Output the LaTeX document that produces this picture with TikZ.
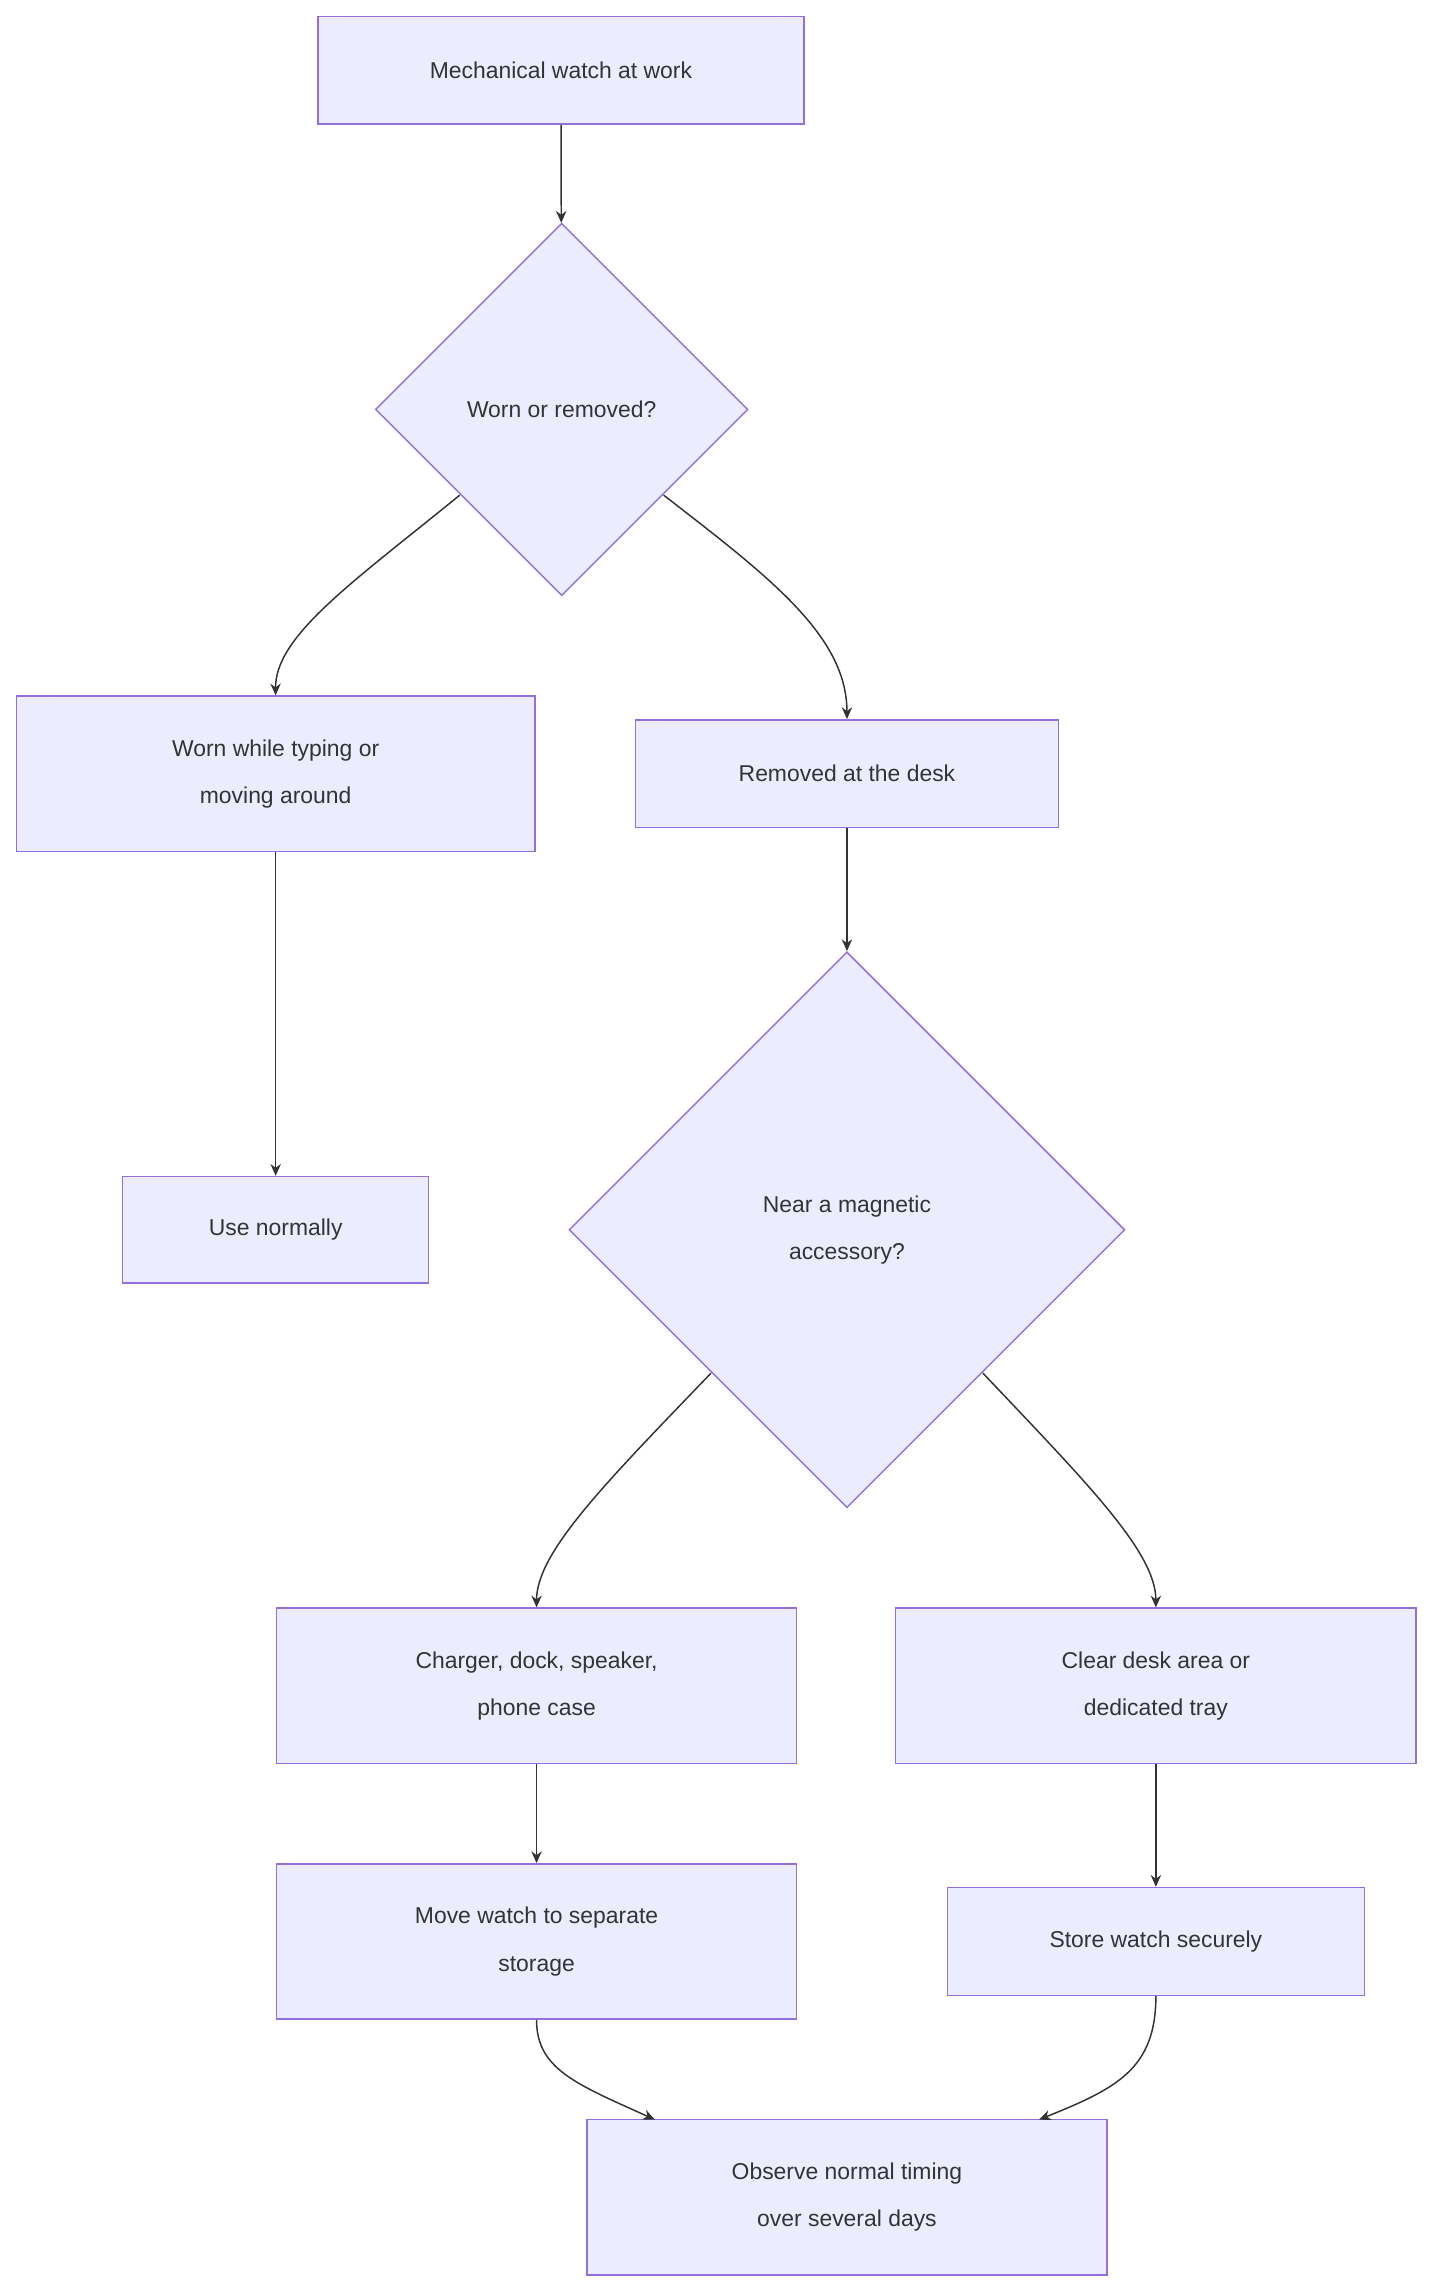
\documentclass[tikz,border=0pt]{standalone}
\usepackage{fontspec}
\setmainfont{Liberation Sans}
\usetikzlibrary{shapes.geometric,arrows.meta}
\definecolor{nfill}{HTML}{ECECFF}
\definecolor{nline}{HTML}{9370DB}
\definecolor{ink}{HTML}{333333}
\begin{document}
\begin{tikzpicture}[x=1pt,y=-1pt,
  box/.style={draw=nline,fill=nfill,line width=1pt,inner sep=0pt,text=ink,align=center,font=\fontsize{15.5}{32}\selectfont},
  dia/.style={draw=nline,fill=nfill,line width=1pt,diamond,inner sep=0pt,aspect=1,text=ink,align=center,font=\fontsize{15.5}{32}\selectfont},
  arr/.style={draw=ink,line width=1pt,-{Stealth[length=8pt,width=7pt]}}]
\useasboundingbox (0,0) rectangle (970,1552);
\node[box,minimum width=329pt,minimum height=73pt] (A) at (379.5,47.5) {Mechanical watch at work};
\node[dia,minimum width=252pt,minimum height=252pt] (D1) at (380,277) {Worn or removed?};
\node[box,minimum width=351pt,minimum height=105pt] (B) at (186.5,523.5) {Worn while typing or\\moving around};
\node[box,minimum width=286pt,minimum height=73pt] (C) at (573,523.5) {Removed at the desk};
\node[box,minimum width=207pt,minimum height=72pt] (U) at (186.5,832) {Use normally};
\node[dia,minimum width=376pt,minimum height=376pt] (D2) at (573,832) {Near a magnetic\\accessory?};
\node[box,minimum width=352pt,minimum height=105pt] (E) at (363,1140.5) {Charger, dock, speaker,\\phone case};
\node[box,minimum width=352pt,minimum height=105pt] (F) at (782,1140.5) {Clear desk area or\\dedicated tray};
\node[box,minimum width=352pt,minimum height=105pt] (G) at (363,1313.5) {Move watch to separate\\storage};
\node[box,minimum width=282pt,minimum height=73pt] (H) at (782,1313.5) {Store watch securely};
\node[box,minimum width=352pt,minimum height=105pt] (I) at (573,1486.5) {Observe normal timing\\over several days};
\coordinate (d1l) at (311,335);
\coordinate (d1r) at (449,335);
\coordinate (d2l) at (481,929);
\coordinate (d2r) at (665,929);
\coordinate (il) at (443,1434);
\coordinate (ir) at (703,1434);
\draw[arr] (A) -- (D1);
\draw[arr] (d1l) .. controls (240,393) and (186,430) .. (B.north);
\draw[arr] (d1r) .. controls (520,390) and (573,430) .. (C.north);
\draw[arr] (B) -- (U);
\draw[arr] (C) -- (D2);
\draw[arr] (d2l) .. controls (410,1003) and (363,1050) .. (E.north);
\draw[arr] (d2r) .. controls (735,1003) and (782,1050) .. (F.north);
\draw[arr] (E) -- (G);
\draw[arr] (F) -- (H);
\draw[arr] (G.south) .. controls (363,1400) and (390,1410) .. (il);
\draw[arr] (H.south) .. controls (782,1400) and (755,1413) .. (ir);
\end{tikzpicture}
\end{document}
